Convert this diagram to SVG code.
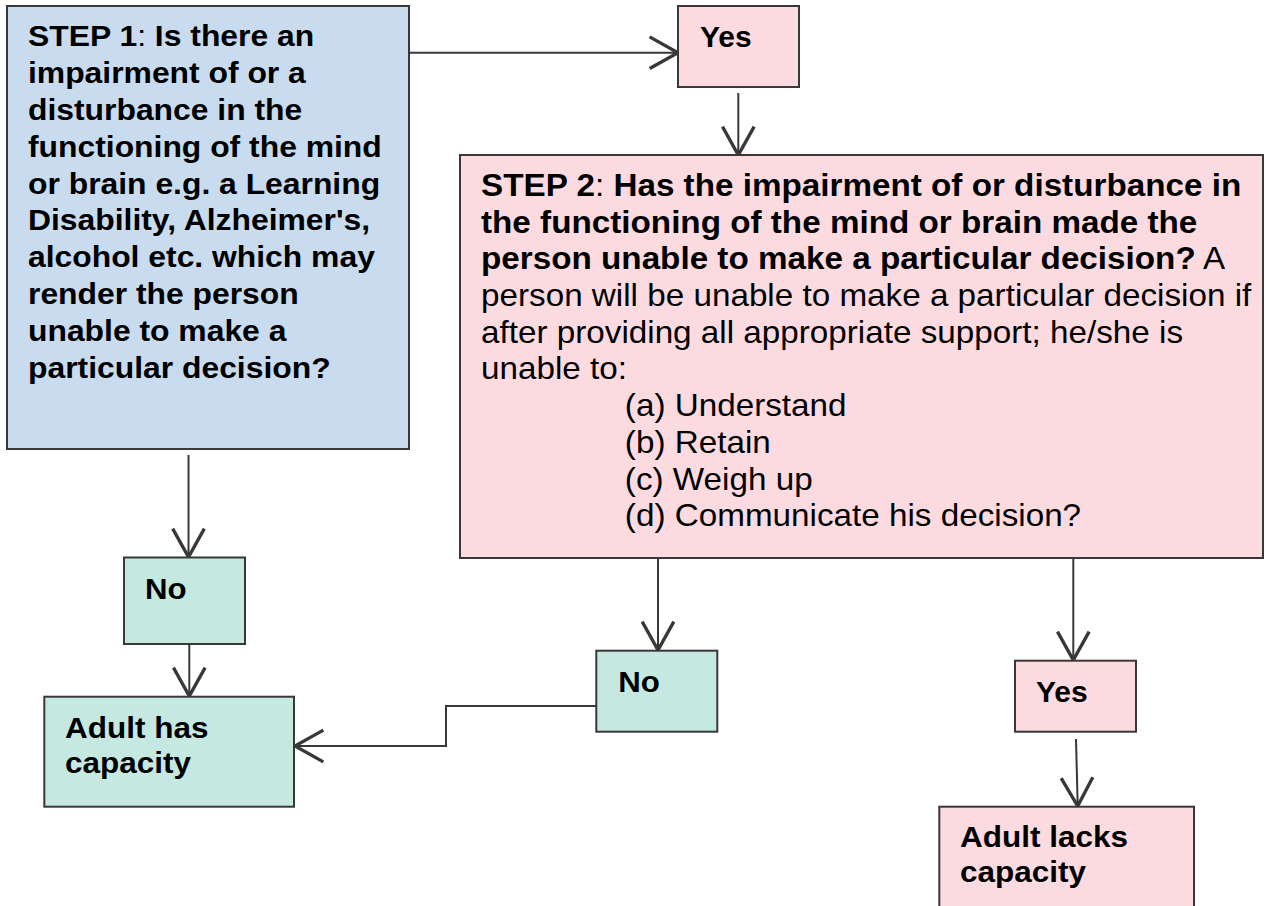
<svg xmlns="http://www.w3.org/2000/svg" width="1268" height="906" viewBox="0 0 1268 906">
<style>
.box{stroke:#383838;stroke-width:2}
.blue{fill:#c9dbee}
.pink{fill:#fcdbe0}
.teal{fill:#c5e8e1}
text{font-family:"Liberation Sans",Arial,sans-serif;fill:#000}
.b{font-weight:bold}
.r{font-weight:normal}
.s1{font-size:29.5px}
.s2{font-size:30.5px}
.sm{font-size:30px;font-weight:bold}
.conn path,.conn line,.conn polyline{stroke:#383838;stroke-width:2;fill:none}
</style>
<defs>
<marker id="arr" markerUnits="userSpaceOnUse" markerWidth="40" markerHeight="40" refX="0" refY="0" viewBox="-20 -12 22 24" orient="auto" overflow="visible">
<path d="M-17,-9.5 L0,0 L-17,9.5" fill="none" stroke="#383838" stroke-width="2"/>
</marker>
</defs>
<g class="conn" id="connectors">
<line x1="409" y1="52.7" x2="678" y2="52.7" marker-end="url(#arr)"/>
<line x1="738.3" y1="93" x2="738.3" y2="155" marker-end="url(#arr)"/>
<line x1="188.5" y1="455" x2="188.5" y2="557" marker-end="url(#arr)"/>
<line x1="189.3" y1="644" x2="189.3" y2="696" marker-end="url(#arr)"/>
<line x1="658" y1="558" x2="658" y2="650" marker-end="url(#arr)"/>
<polyline points="596,706 446,706 446,746 295,746" marker-end="url(#arr)"/>
<line x1="1073.3" y1="558" x2="1073.3" y2="660" marker-end="url(#arr)"/>
<line x1="1076" y1="739" x2="1077.7" y2="806" marker-end="url(#arr)"/>
</g>
<g id="step1">
<rect class="box blue" x="7" y="6" width="402" height="443"/>
<text class="s1 b" transform="matrix(1.08,0,0,1,28,0)">
<tspan x="0" y="46">STEP 1<tspan class="r">:</tspan> Is there an</tspan>
<tspan x="0" y="82.9">impairment of or a</tspan>
<tspan x="0" y="119.8">disturbance in the</tspan>
<tspan x="0" y="156.7">functioning of the mind</tspan>
<tspan x="0" y="193.6">or brain e.g. a Learning</tspan>
<tspan x="0" y="230.5">Disability, Alzheimer's,</tspan>
<tspan x="0" y="267.4">alcohol etc. which may</tspan>
<tspan x="0" y="304.3">render the person</tspan>
<tspan x="0" y="341.2">unable to make a</tspan>
<tspan x="0" y="378.1">particular decision?</tspan>
</text>
</g>
<g id="yes1">
<rect class="box pink" x="678" y="6" width="121" height="81"/>
<text class="sm" transform="matrix(1.0,0,0,1,700,0)"><tspan x="0" y="46.7">Yes</tspan></text>
</g>
<g id="step2">
<rect class="box pink" x="460" y="155" width="803" height="403"/>
<text class="s2" transform="matrix(1.09,0,0,1,481,0)">
<tspan x="0" y="196" class="b">STEP 2<tspan class="r">:</tspan> Has the impairment of or disturbance in</tspan>
<tspan x="0" y="232.7" class="b">the functioning of the mind or brain made the</tspan>
<tspan x="0" y="269.4"><tspan class="b">person unable to make a particular decision?</tspan> A</tspan>
<tspan x="0" y="306.1">person will be unable to make a particular decision if</tspan>
<tspan x="0" y="342.8">after providing all appropriate support; he/she is</tspan>
<tspan x="0" y="379.5">unable to:</tspan>
<tspan x="132" y="416.2">(a) Understand</tspan>
<tspan x="132" y="452.9">(b) Retain</tspan>
<tspan x="132" y="489.6">(c) Weigh up</tspan>
<tspan x="132" y="526.3">(d) Communicate his decision?</tspan>
</text>
</g>
<g id="no1">
<rect class="box teal" x="124" y="557.5" width="121" height="86.5"/>
<text class="sm" transform="matrix(1.04,0,0,1,145,0)"><tspan x="0" y="599.3">No</tspan></text>
</g>
<g id="hascap">
<rect class="box teal" x="44.3" y="696.7" width="249.7" height="110"/>
<text class="sm" transform="matrix(1.05,0,0,1,65,0)"><tspan x="0" y="737.7">Adult has</tspan><tspan x="0" y="773.5">capacity</tspan></text>
</g>
<g id="no2">
<rect class="box teal" x="596.3" y="650.7" width="121" height="81"/>
<text class="sm" transform="matrix(1.04,0,0,1,618.3,0)"><tspan x="0" y="691.7">No</tspan></text>
</g>
<g id="yes2">
<rect class="box pink" x="1015" y="660.7" width="121" height="71"/>
<text class="sm" transform="matrix(1.0,0,0,1,1036,0)"><tspan x="0" y="701.7">Yes</tspan></text>
</g>
<g id="lackscap">
<rect class="box pink" x="939.3" y="806.7" width="254.7" height="120"/>
<text class="sm" transform="matrix(1.05,0,0,1,960,0)"><tspan x="0" y="846.7">Adult lacks</tspan><tspan x="0" y="882">capacity</tspan></text>
</g>
</svg>
